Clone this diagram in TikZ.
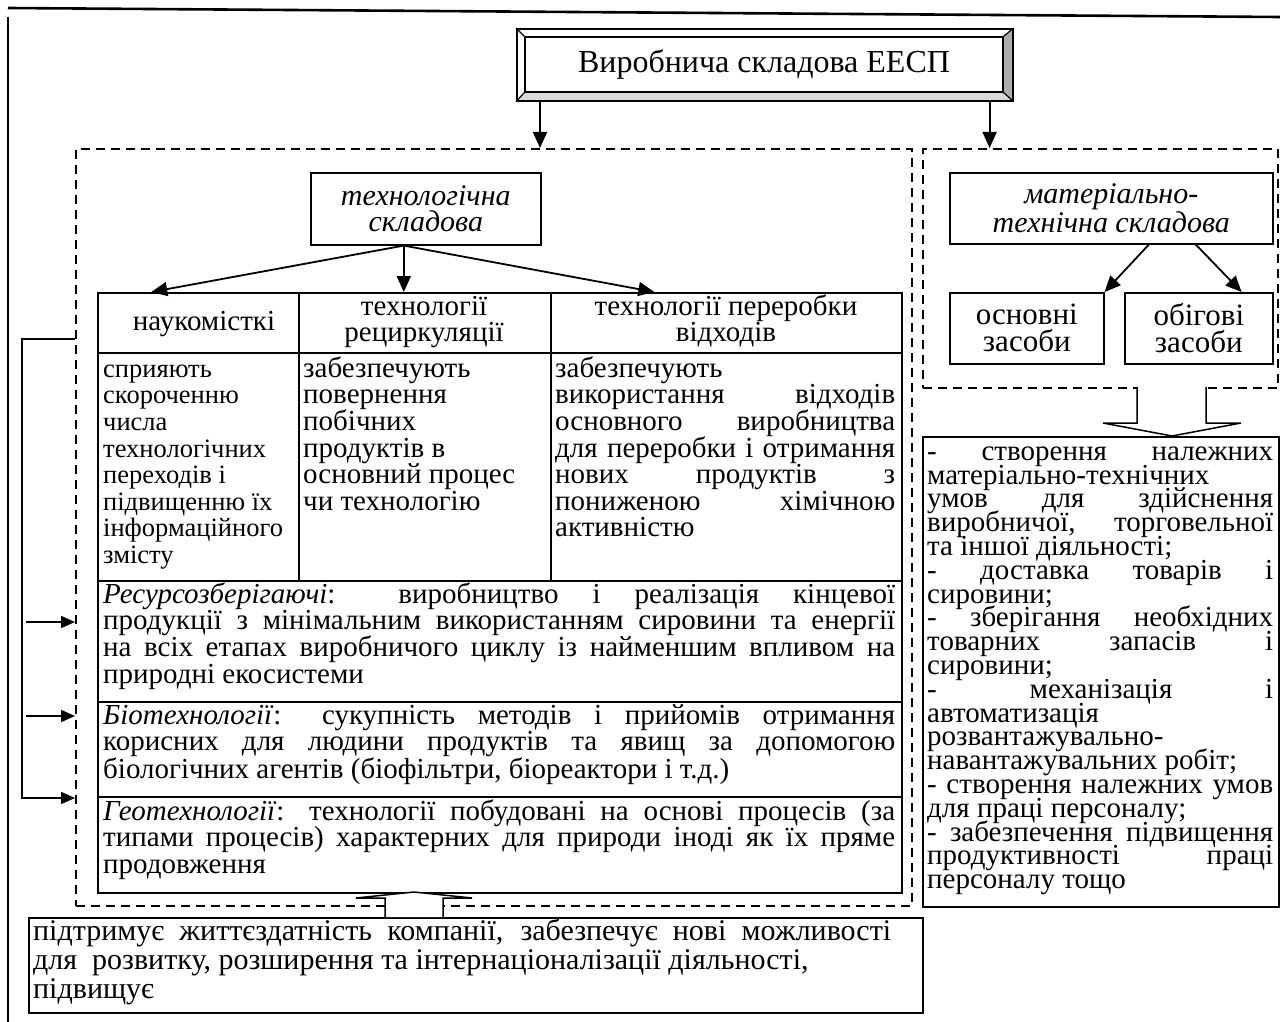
\documentclass[tikz,border=0pt]{standalone}
\usepackage{fontspec}
\setmainfont{Liberation Serif}
\usetikzlibrary{arrows.meta,calc,backgrounds}
% strut that fixes the height of the first line of a text block
% and keeps the fixed line pitch even for tall lines
\newcommand{\firstup}{\lineskiplimit=-100pt\relax\rule{0pt}{22pt}}
% a line stretched to the full width of its block
\newcommand{\jl}[1]{\makebox[\hsize][s]{#1}}

\begin{document}
\begin{tikzpicture}[x=1pt,y=-1pt,
  cellbox/.style={draw, line width=1.6pt, inner sep=0pt, anchor=north west},
  dashframe/.style={draw, line width=1.8pt, dash pattern=on 9pt off 6pt, inner sep=0pt, anchor=north west},
  arr/.style={line width=1.8pt, -{Triangle[width=14pt,length=16pt]}},
  sarr/.style={line width=1.6pt, -{Triangle[width=12pt,length=14pt]}},
  hollow/.style={draw, fill=white, line width=1.5pt, line join=miter},
  txt/.style={inner sep=0pt, anchor=north west, align=flush left},
  ctxt/.style={inner sep=0pt, align=center},
  fa/.style={font=\fontsize{29pt}{26.6pt}\selectfont},
  fb/.style={font=\fontsize{31pt}{27pt}\selectfont},
]
\begin{scope}[on background layer]
  \fill[white] (0,0) rectangle (1280,1022);
\end{scope}
\useasboundingbox (0,0) rectangle (1280,1022);

% page rules
\coordinate (ruleL) at (8,8);
\coordinate (ruleR) at (1280,17);
\draw[line width=2.6pt] (ruleL) -- (ruleR);
\coordinate (edgeT) at (8,17);
\coordinate (edgeB) at (8,1022);
\draw[line width=2pt] (edgeT) -- (edgeB);

% bevelled title box
\node[cellbox, minimum width=496pt, minimum height=72pt] (title) at (516,28) {};
\node[draw, line width=1.5pt, minimum width=478pt, minimum height=55pt, inner sep=0pt,
      font=\fontsize{32pt}{36pt}\selectfont] (titlein) at (764,64.5) {Виробнича складова ЕЕСП};
\begin{scope}[on background layer]
  \fill[gray!65] (title.north east) -- (title.south east) -- (titlein.south east) -- (titlein.north east) -- cycle;
  \fill[gray!30] (title.south west) -- (title.south east) -- (titlein.south east) -- (titlein.south west) -- cycle;
\end{scope}
\draw[line width=1.2pt] (title.north west) -- (titlein.north west)
                        (title.north east) -- (titlein.north east)
                        (title.south west) -- (titlein.south west)
                        (title.south east) -- (titlein.south east);

% dashed groups
\node[dashframe, minimum width=836pt, minimum height=757pt] (techframe) at (75,148) {};
\node[dashframe, minimum width=355pt, minimum height=239pt] (matframe) at (922,148) {};

\draw[arr] ([xshift=24pt]title.south west) -- ([xshift=24pt]title.south west |- techframe.north);
\draw[arr] ([xshift=-24pt]title.south east) -- ([xshift=-24pt]title.south east |- matframe.north);

% technological component
\node[cellbox, minimum width=230pt, minimum height=72pt, align=center,
      font=\itshape\fontsize{30pt}{26pt}\selectfont] (tech) at (310,172) {технологічна\\складова};

% table cells
\node[cellbox, minimum width=201pt, minimum height=60pt] (h1) at (97,292) {};
\node[cellbox, minimum width=252pt, minimum height=60pt] (h2) at (298,292) {};
\node[cellbox, minimum width=351pt, minimum height=60pt] (h3) at (550,292) {};
\node[cellbox, minimum width=201pt, minimum height=228pt] (b1) at (97,352) {};
\node[cellbox, minimum width=252pt, minimum height=228pt] (b2) at (298,352) {};
\node[cellbox, minimum width=351pt, minimum height=228pt] (b3) at (550,352) {};
\node[cellbox, minimum width=804pt, minimum height=121pt] (r1) at (97,580) {};
\node[cellbox, minimum width=804pt, minimum height=95pt] (r2) at (97,701) {};
\node[cellbox, minimum width=804pt, minimum height=96pt] (r3) at (97,796) {};

\coordinate (techout) at ([xshift=-22pt]tech.south);
\draw[arr] (techout) -- ([xshift=-47pt]h1.north);
\draw[arr] (techout) -- ([xshift=-21pt]h2.north);
\draw[arr] (techout) -- ([xshift=-72pt]h3.north);

% header texts
\node[inner sep=0pt, anchor=base, fa] (h1t) at (204,330) {наукомісткі};
\node[ctxt, anchor=north, fa] (h2t) at (424,293) {\firstup технології\\рециркуляції};
\node[ctxt, anchor=north, fa] (h3t) at (726,293) {\firstup технології переробки\\відходів};

% body texts
\node[txt, text width=192pt, font=\fontsize{26.5pt}{26.6pt}\selectfont] (b1t) at (103,355)
  {\firstup сприяють\\скороченню\\числа\\технологічних\\переходів і\\підвищенню їх\\інформаційного\\змісту};
\node[txt, text width=242pt, fa] (b2t) at (303,355)
  {\firstup забезпечують\\повернення\\побічних\\продуктів в\\основний процес\\чи технологію};
\node[txt, text width=340pt, fa] (b3t) at (555,355)
  {\firstup забезпечують\\\jl{використання відходів}\\\jl{основного виробництва}\\\jl{для переробки і отримання}\\\jl{нових продуктів з}\\\jl{пониженою хімічною}\\активністю};

\node[txt, text width=792pt, fa] (r1t) at (103,581)
  {\firstup\jl{\textit{Ресурсозберігаючі}: виробництво і реалізація кінцевої}\\
   \jl{продукції з мінімальним використанням сировини та енергії}\\
   \jl{на всіх етапах виробничого циклу із найменшим впливом на}\\
   природні екосистеми};
\node[txt, text width=792pt, fa] (r2t) at (103,702)
  {\firstup\jl{\textit{Біотехнології}: сукупність методів і прийомів отримання}\\
   \jl{корисних для людини продуктів та явищ за допомогою}\\
   біологічних агентів (біофільтри, біореактори і т.д.)};
\node[txt, text width=792pt, fa] (r3t) at (103,798)
  {\firstup\jl{\textit{Геотехнології}: технології побудовані на основі процесів (за}\\
   \jl{типами процесів) характерних для природи іноді як їх пряме}\\
   продовження};

% links on the left edge
\coordinate (bk) at (22,339);
\coordinate (c1) at (26,622);
\coordinate (c2) at (26,716);
\coordinate (c3) at (22,798);
\draw[sarr] (bk -| techframe.west) -- (bk) -- (c3) -- (c3 -| techframe.west);
\draw[sarr] (c1) -- (c1 -| techframe.west);
\draw[sarr] (c2) -- (c2 -| techframe.west);

% material and technical component
\node[cellbox, minimum width=323pt, minimum height=71pt, align=center,
      font=\itshape\fontsize{30pt}{25pt}\selectfont] (mat) at (949,172) {матеріально-\\технічна складова};
\node[cellbox, minimum width=154pt, minimum height=71pt, align=center, fb] (osn) at (949,292) {основні\\засоби};
\node[cellbox, minimum width=148pt, minimum height=71pt, align=center, fb] (obig) at (1124,292) {обігові\\засоби};
\draw[arr] ([xshift=37.5pt]mat.south) -- (osn.north east);
\draw[arr] ([xshift=84.5pt]mat.south) -- ([xshift=-32pt]obig.north east);

% list of conditions
\node[cellbox, minimum width=356pt, minimum height=470pt] (matlist) at (922,436) {};
\node[txt, text width=346pt, font=\fontsize{29pt}{23.8pt}\selectfont] (matlistt) at (927,438)
  {\firstup\jl{- створення належних}\\
   матеріально-технічних\\
   \jl{умов для здійснення}\\
   \jl{виробничої, торговельної}\\
   та іншої діяльності;\\
   \jl{- доставка товарів і}\\
   сировини;\\
   \jl{- зберігання необхідних}\\
   \jl{товарних запасів і}\\
   сировини;\\
   \jl{- механізація і}\\
   автоматизація\\
   розвантажувально-\\
   навантажувальних робіт;\\
   \jl{- створення належних умов}\\
   для праці персоналу;\\
   \jl{- забезпечення підвищення}\\
   \jl{продуктивності праці}\\
   персоналу тощо};

% hollow arrow into the list
\draw[hollow] (1137,387) -- (1137,423) -- (1103,423) -- (1172,436) -- (1241,423) -- (1206,423) -- (1206,387);

% supporting effect
\node[cellbox, minimum width=894pt, minimum height=95pt] (support) at (28,917) {};
\node[txt, text width=886pt, font=\fontsize{30pt}{29pt}\selectfont] (supportt) at (33,918)
  {\firstup\makebox[858pt][s]{підтримує життєздатність компанії, забезпечує нові можливості}\\
   для\ \ розвитку, розширення та інтернаціоналізації діяльності,\\
   підвищує};
\draw[hollow] (385,917) -- (385,898) -- (356,898) -- (414,892) -- (472,898) -- (443,898) -- (443,917);
\end{tikzpicture}
\end{document}
